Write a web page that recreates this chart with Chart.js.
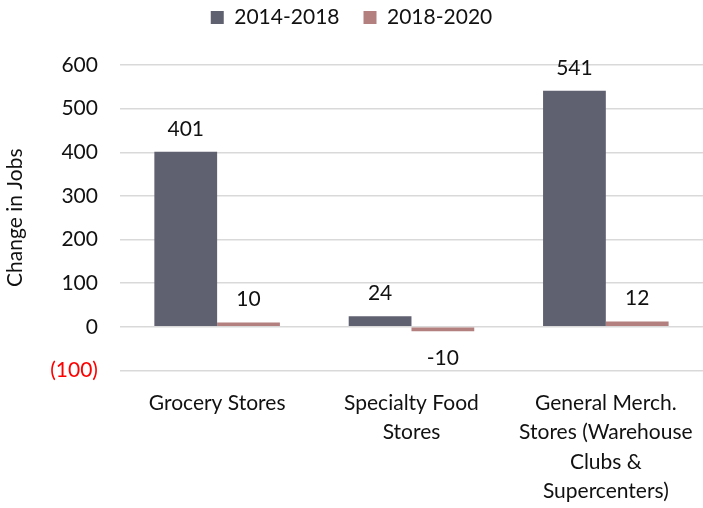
<!DOCTYPE html>
<html>
<head>
<meta charset="utf-8">
<script src="https://cdn.jsdelivr.net/npm/chart.js@4"></script>
<style>
html,body{margin:0;padding:0;background:#fff;}
#wrap{width:703px;height:508px;}
</style>
</head>
<body>
<div id="wrap"><canvas id="c" width="703" height="508"></canvas></div>
<script>
const categories = [
  ["Grocery Stores"],
  ["Specialty Food", "Stores"],
  ["General Merch.", "Stores (Warehouse", "Clubs &", "Supercenters)"]
];
const seriesNames = ["2014-2018", "2018-2020"];
const values2014_2018 = [401, 24, 541];
const values2018_2020 = [10, -10, 12];
const yTicks = [-100, 0, 100, 200, 300, 400, 500, 600];

const FONT = "Lato, 'Open Sans', sans-serif";
const FS = 21;

const labelPlugin = {
  id: 'valueLabels',
  afterDatasetsDraw(chart) {
    const ctx = chart.ctx;
    ctx.save();
    ctx.font = FS + "px " + FONT;
    ctx.fillStyle = "#111";
    ctx.textAlign = "center";
    ctx.textBaseline = "middle";
    chart.data.datasets.forEach((ds, di) => {
      const meta = chart.getDatasetMeta(di);
      meta.data.forEach((el, i) => {
        const v = ds.data[i];
        const y = v >= 0 ? el.y - 23 : el.y + 27;
        ctx.fillText(String(v), el.x, y);
      });
    });
    ctx.restore();
  }
};

const legendGap = {
  id: 'legendGap',
  beforeInit(chart) {
    if (!chart.legend) return;
    const orig = chart.legend.fit;
    chart.legend.fit = function () {
      orig.call(this);
      this.height += 27;
    };
  }
};

new Chart(document.getElementById('c'), {
  type: 'bar',
  data: {
    labels: categories,
    datasets: [
      { label: seriesNames[0], data: values2014_2018, backgroundColor: '#5f6171', categoryPercentage: 0.646, barPercentage: 1.0 },
      { label: seriesNames[1], data: values2018_2020, backgroundColor: '#b37f7f', categoryPercentage: 0.646, barPercentage: 1.0 }
    ]
  },
  options: {
    responsive: false,
    animation: false,
    layout: { padding: { top: -17, right: 0, left: 0, bottom: -16 } },
    plugins: {
      legend: {
        position: 'top',
        labels: {
          font: { family: FONT, size: FS },
          color: '#111',
          boxWidth: 13,
          boxHeight: 13,
          padding: 24
        }
      },
      tooltip: { enabled: false }
    },
    scales: {
      x: {
        grid: { display: false, drawTicks: false },
        border: { display: false },
        afterFit(scale) { scale.paddingLeft = 0; scale.paddingRight = 0; },
        ticks: {
          font: { family: FONT, size: FS, lineHeight: 1.4 },
          color: '#111',
          maxRotation: 0,
          autoSkip: false,
          padding: 18
        }
      },
      y: {
        min: -100,
        max: 600,
        afterBuildTicks(axis) { axis.ticks = yTicks.map(v => ({ value: v })); },
        grid: { color: '#d9d9d9', lineWidth: 1.5, drawTicks: false },
        border: { display: false },
        title: {
          display: true,
          text: 'Change in Jobs',
          font: { family: FONT, size: FS },
          color: '#111',
          padding: { top: 3, bottom: 0 }
        },
        ticks: {
          font: { family: FONT, size: FS },
          color: (c) => c.tick && c.tick.value < 0 ? '#ff0000' : '#111',
          padding: 22,
          callback: (v) => v < 0 ? '(' + Math.abs(v) + ')' : String(v)
        }
      }
    }
  },
  plugins: [labelPlugin, legendGap]
});
</script>
</body>
</html>
